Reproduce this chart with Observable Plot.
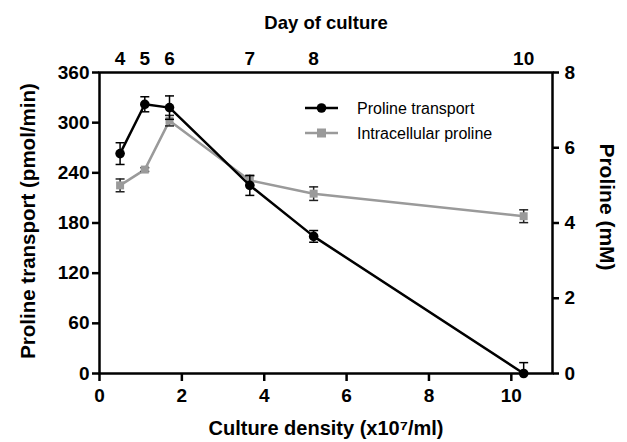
<!DOCTYPE html>
<html>
<head>
<meta charset="utf-8">
<script src="https://cdn.jsdelivr.net/npm/d3@7"></script>
<script src="https://cdn.jsdelivr.net/npm/@observablehq/plot@0.6"></script>
<style>
  body { margin: 0; background: #fff; }
  #wrap { position: relative; width: 627px; height: 442px; font-family: "Liberation Sans", Arial, sans-serif; }
  #legend { position: absolute; left: 300px; top: 94px; }
</style>
</head>
<body>
<div id="wrap"></div>
<script>
// ---- data ----
const density = [0.5, 1.1, 1.7, 3.65, 5.2, 10.3];          // culture density (x10^7/ml)
const dayLabels = ["4", "5", "6", "7", "8", "10"];          // day of culture
const transport = [263, 322, 318, 225, 164, 0];             // pmol/min
const transportErr = [13, 9, 14, 12, 7, 13];
const proline = [5.0, 5.42, 6.72, 5.13, 4.78, 4.18];        // mM
const prolineErr = [0.17, 0.05, 0.14, 0.12, 0.18, 0.17];
const leftTicks = [0, 60, 120, 180, 240, 300, 360];
const rightTicks = [0, 2, 4, 6, 8];
const bottomTicks = [0, 2, 4, 6, 8, 10];
const seriesNames = ["Proline transport", "Intracellular proline"];
const titles = {top: "Day of culture", left: "Proline transport (pmol/min)", right: "Proline (mM)", bottom: "Culture density (x10\u2077/ml)"};
const colors = ["#000000", "#9a9a9a"];

const k = 360 / 8; // right axis (mM) mapped onto left scale

const T = density.map((x, i) => ({x, y: transport[i], lo: Math.max(0, transport[i] - transportErr[i]), hi: transport[i] + transportErr[i]}));
const P = density.map((x, i) => ({x, y: proline[i] * k, lo: (proline[i] - prolineErr[i]) * k, hi: (proline[i] + prolineErr[i]) * k}));

const capSymbol = {draw(ctx, size) { ctx.moveTo(-4.5, 0); ctx.lineTo(4.5, 0); }};
const font = '"Liberation Sans", Arial, sans-serif';
const fs = 19;

const chart = Plot.plot({
  width: 627,
  height: 442,
  marginLeft: 99,
  marginRight: 75,
  marginTop: 72,
  marginBottom: 69,
  style: {fontFamily: font, fontSize: "19px", fontWeight: "bold", color: "#000", background: "#fff", overflow: "visible"},
  x: {domain: [0, 11]},
  y: {domain: [0, 360]},
  marks: [
    // grey series
    Plot.line(P, {x: "x", y: "y", stroke: colors[1], strokeWidth: 2.5}),
    Plot.ruleX(P, {x: "x", y1: "lo", y2: "hi", stroke: "#222", strokeWidth: 1.5}),
    Plot.dot(P, {x: "x", y: "lo", symbol: capSymbol, stroke: "#222", strokeWidth: 1.5}),
    Plot.dot(P, {x: "x", y: "hi", symbol: capSymbol, stroke: "#222", strokeWidth: 1.5}),
    Plot.dot(P, {x: "x", y: "y", symbol: "square", r: 4.5, fill: colors[1], stroke: "none"}),
    // black series
    Plot.line(T, {x: "x", y: "y", stroke: colors[0], strokeWidth: 2.5}),
    Plot.ruleX(T, {x: "x", y1: "lo", y2: "hi", stroke: "#000", strokeWidth: 1.5}),
    Plot.dot(T, {x: "x", y: "lo", symbol: capSymbol, stroke: "#000", strokeWidth: 1.5}),
    Plot.dot(T, {x: "x", y: "hi", symbol: capSymbol, stroke: "#000", strokeWidth: 1.5}),
    Plot.dot(T, {x: "x", y: "y", r: 4.8, fill: colors[0]}),
    // axes
    Plot.axisY(leftTicks, {anchor: "left", tickSize: 7, tickPadding: 3, strokeWidth: 2.5, fontSize: fs, label: null}),
    Plot.axisY(rightTicks.map(d => d * k), {anchor: "right", tickSize: 6, tickPadding: 6, strokeWidth: 2.5, fontSize: fs,
      tickFormat: d => String(Math.round(d / k)), label: null}),
    Plot.axisX(bottomTicks, {anchor: "bottom", tickSize: 8, tickPadding: 7, strokeWidth: 2.5, fontSize: fs, label: null}),
    Plot.axisX(density, {anchor: "top", tickSize: 0, tickPadding: 8, fontSize: fs,
      tickFormat: d => dayLabels[density.indexOf(d)], label: null}),
    // axis titles
    Plot.text([titles.top], {frameAnchor: "top", dy: -57, textAnchor: "middle", fontSize: 18.5, fontWeight: "bold"}),
    Plot.text([titles.bottom], {frameAnchor: "bottom", dy: 61, textAnchor: "middle", fontSize: 20, fontWeight: "bold"}),
    Plot.text([titles.left], {frameAnchor: "left", dx: -71, dy: -2, rotate: -90, textAnchor: "middle", fontSize: 20.5, fontWeight: "bold"}),
    Plot.text([titles.right], {frameAnchor: "right", dx: 54, dy: -16, rotate: 90, textAnchor: "middle", fontSize: 21, fontWeight: "bold"}),
    Plot.frame({strokeWidth: 2.5})
  ]
});
document.getElementById("wrap").appendChild(chart);

// legend
const lg = document.createElement("div");
lg.id = "legend";
lg.innerHTML = `<svg width="240" height="56" style="font-family:${font};font-size:16px">
  ${seriesNames.map((n, i) => `
    <g transform="translate(0,${14 + i * 25})">
      <line x1="5" x2="38" y1="0" y2="0" stroke="${colors[i]}" stroke-width="2.5"/>
      ${i === 0 ? `<circle cx="21.5" cy="0" r="4.8" fill="${colors[0]}"/>` : `<rect x="17" y="-4.5" width="9" height="9" fill="${colors[1]}"/>`}
      <text x="57" y="0" dy="0.35em" fill="#000">${n}</text>
    </g>`).join("")}
</svg>`;
document.getElementById("wrap").appendChild(lg);
</script>
</body>
</html>
